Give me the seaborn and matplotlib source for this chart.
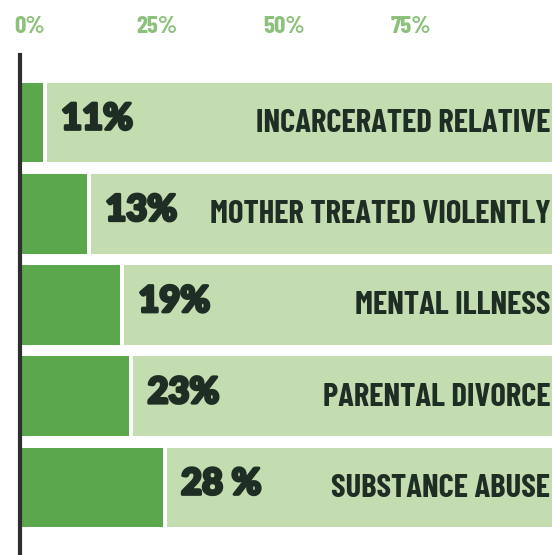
import matplotlib
matplotlib.use("Agg")
import matplotlib.pyplot as plt
import matplotlib.transforms as mtransforms
import matplotlib.patheffects as pe
from matplotlib import font_manager
import seaborn as sns
import pandas as pd

# ---- data ----
categories = ["INCARCERATED RELATIVE", "MOTHER TREATED VIOLENTLY", "MENTAL ILLNESS",
              "PARENTAL DIVORCE", "SUBSTANCE ABUSE"]
bar_values = [4.5, 13.2, 19.7, 21.5, 28.1]          # bar lengths as drawn (%)
value_labels = ["11%", "13%", "19%", "23%", "28 %"]
full_scale = [110, 110, 110, 110, 110]
tick_values = [0, 25, 50, 75]
tick_labels = ["0%", "25%", "50%", "75%"]

sns.set_theme(style="white")

fonts = font_manager.fontManager.ttflist
names = {f.name for f in fonts}
narrow = next((n for n in ["Barlow Condensed", "Roboto Condensed", "PT Sans Narrow"] if n in names),
              "DejaVu Sans")
plt.rcParams["font.family"] = [narrow, "DejaVu Sans"]

heavy_file = None
for fn in ["Lato-Black.ttf", "Lato-Heavy.ttf"]:
    for f in fonts:
        if f.fname.endswith(fn):
            heavy_file = f.fname
            break
    if heavy_file:
        break
if heavy_file:
    heavy_prop = font_manager.FontProperties(fname=heavy_file, size=26)
else:
    heavy_prop = font_manager.FontProperties(family="DejaVu Sans", weight="bold", size=24)

DARK = "#5aa84b"
LIGHT = "#c3ddb0"
TEXT = "#1f2e25"
TICK = "#8cc17b"

df = pd.DataFrame({"category": categories, "value": bar_values,
                   "gap": [v + 0.8 for v in bar_values], "full": full_scale})

fig = plt.figure(figsize=(5.52, 5.55), dpi=100)
ax = fig.add_axes([20 / 552, 0, 532 / 552, 500 / 555])

kw = dict(data=df, y="category", orient="h", ax=ax, width=0.876,
          saturation=1, linewidth=0)
sns.barplot(x="full", color=LIGHT, **kw)
sns.barplot(x="gap", color="white", **kw)
sns.barplot(x="value", color=DARK, **kw)

ax.set_xlim(0, 104.7)
ax.set_ylim(4.74, -0.74)
ax.set_ylabel("")
ax.set_xlabel("")
ax.set_yticks([])

stroke = [pe.withStroke(linewidth=2.2, foreground=TEXT)]
for i, (v, lab, cat) in enumerate(zip(bar_values, value_labels, categories)):
    ax.text(v + 3.6, i - 0.04, lab, ha="left", va="center",
            fontproperties=heavy_prop, color=TEXT, path_effects=stroke)
    ax.text(104.4, i + 0.01, cat, ha="right", va="center", fontsize=23.5,
            fontweight="bold", color=TEXT)

ax.xaxis.set_ticks_position("top")
ax.set_xticks(tick_values)
ax.set_xticklabels(tick_labels, fontsize=18, fontweight="bold", color=TICK)
ax.tick_params(axis="x", length=0, pad=12)
offset = mtransforms.ScaledTranslation(10 / 100, 0, fig.dpi_scale_trans)
for lbl in ax.get_xticklabels():
    lbl.set_transform(lbl.get_transform() + offset)

for s in ["top", "right", "bottom"]:
    ax.spines[s].set_visible(False)
ax.spines["left"].set_linewidth(3)
ax.spines["left"].set_color("#2e2e2e")
ax.spines["left"].set_zorder(5)

fig.savefig("out.png", dpi=100)
